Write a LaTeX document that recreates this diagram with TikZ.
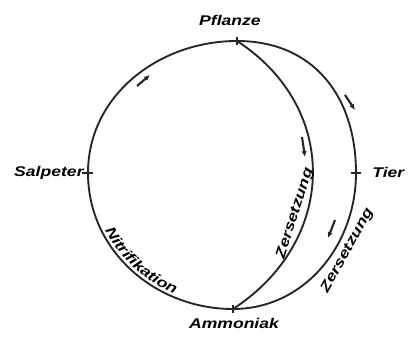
\documentclass[tikz,border=0pt]{standalone}
\usepackage{fontspec}
\newfontfamily\figfont{Liberation Sans}[FakeStretch=1.25]
\usetikzlibrary{arrows.meta,decorations.text}

\begin{document}
\begin{tikzpicture}[
    x=0.03cm,
    y=0.03cm,
    font=\figfont\bfseries\itshape\fontsize{12}{14}\selectfont,
    cycleline/.style={draw=black!85, line width=1.6pt},
    junctiontick/.style={draw=black!85, line width=1.6pt},
    flow/.style={draw=black!85, line width=1.8pt, -{Latex[length=5pt,width=4.5pt]}},
    place/.style={inner sep=1pt},
    along/.style={sloped, inner sep=3.5pt},
    curvedlabel/.style={postaction={decorate, decoration={text along path,
        text={|\figfont\bfseries\itshape\fontsize{12}{14}\selectfont|#1},
        text align=center, raise=3pt}}}
]
\path[use as bounding box] (0,0) rectangle (409,341);

% junction points of the cycle
\coordinate (pflanze) at (237,300);
\coordinate (salpeter) at (88,168);
\coordinate (ammoniak) at (233,32);
\coordinate (tier) at (356,168);

% labels of the stations
\node[place] (lPflanze) at (230,321) {Pflanze};
\node[place, anchor=east] (lSalpeter) at (85,168) {Salpeter};
\node[place, anchor=west] (lTier) at (371,169) {Tier};
\node[place] (lAmmoniak) at (234,18) {Ammoniak};

% left half: Ammoniak -> Salpeter -> Pflanze
\draw[cycleline] (pflanze) to[out=180, in=90] (salpeter);
\draw[cycleline, curvedlabel=Nitrifikation]
    (salpeter) to[out=-90, in=180] (ammoniak);

% right side: Pflanze -> Tier -> Ammoniak, and the short way
\draw[cycleline] (pflanze) to[out=0, in=90, looseness=1.1] (tier);
\draw[cycleline] (tier) to[out=-90, in=0]
    node[along, below, pos=0.36] (lZersTier) {Zersetzung} (ammoniak);
\draw[cycleline] (pflanze) to[out=-33, in=33, looseness=1.18]
    node[along, above, pos=0.64] (lZersPfl) {Zersetzung} (ammoniak);

% small ticks at the stations
\draw[junctiontick] (salpeter) +(-6,0) -- +(5,0);
\draw[junctiontick] (tier) +(-5,0) -- +(5,0);
\draw[junctiontick] (pflanze) +(0,-4) -- +(0,4);
\draw[junctiontick] (ammoniak) +(0,-4) -- +(0,4);

% direction marks
\draw[flow] (137,255) -- (150,266);
\draw[flow] (345,246) -- (355,231);
\draw[flow] (302,204) -- (305,184);
\draw[flow] (335,121) -- (328,103);
\end{tikzpicture}
\end{document}
